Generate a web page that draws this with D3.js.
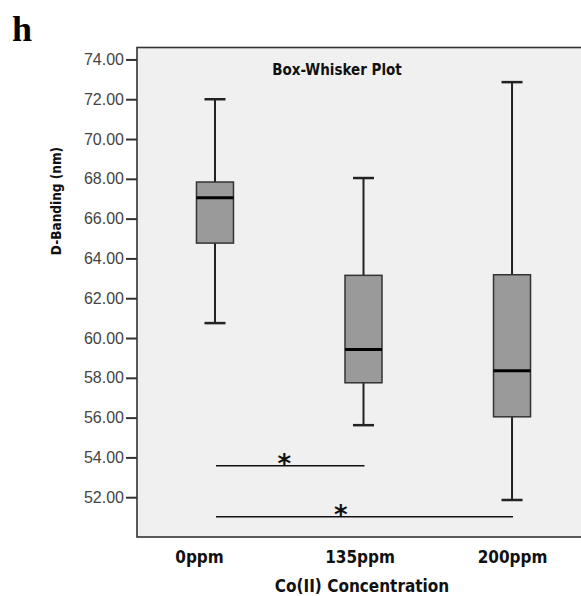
<!DOCTYPE html>
<html><head><meta charset="utf-8">
<script src="https://cdn.jsdelivr.net/npm/d3@7/dist/d3.min.js"></script>
<style>
html,body{margin:0;padding:0;background:#fff;}
svg{display:block;}
</style></head>
<body>
<script>
// ---- data ----
const categories = ["0ppm", "135ppm", "200ppm"];
const whiskerLow  = [60.75, 55.62, 51.86];
const q1          = [64.77, 57.75, 56.04];
const median      = [67.05, 59.42, 58.35];
const q3          = [67.84, 63.15, 63.18];
const whiskerHigh = [72.00, 68.04, 72.86];
const yTicks = [52, 54, 56, 58, 60, 62, 64, 66, 68, 70, 72, 74];
const comparisons = [ {from: "0ppm", to: "135ppm", level: 53.58, label: "*"},
                      {from: "0ppm", to: "200ppm", level: 51.02, label: "*"} ];

// ---- layout ----
const W = 581, H = 596;
const plot = {left: 137, right: 600, top: 47.5, bottom: 537};
const boxW = 37, capW = 21;
const labelNudge = [-16, -4, 0];
const starFrac = [0.46, 0.42];

const svg = d3.select("body").append("svg").attr("width", W).attr("height", H);

const y = d3.scaleLinear().domain([50, 74.6]).range([plot.bottom, plot.top]);
const x = d3.scalePoint().domain(categories).range([137, 590]).padding(0.525);

// panel
svg.append("rect").attr("x", plot.left).attr("y", plot.top)
  .attr("width", plot.right - plot.left).attr("height", plot.bottom - plot.top)
  .attr("fill", "#f0f0f0").attr("stroke", "#333").attr("stroke-width", 1.6);

// y axis
const yAxis = svg.append("g").attr("transform", `translate(${plot.left},0)`)
  .call(d3.axisLeft(y).tickValues(yTicks).tickFormat(d3.format(".2f")).tickSize(11).tickPadding(2));
yAxis.select(".domain").remove();
yAxis.selectAll(".tick line").attr("stroke", "#333").attr("stroke-width", 2);
yAxis.selectAll(".tick text").attr("fill", "#444")
  .style("font-family", "'Liberation Sans', Arial, sans-serif").style("font-size", "16px");

// x axis labels
const xAxis = svg.append("g").attr("transform", `translate(0,${plot.bottom})`)
  .call(d3.axisBottom(x).tickSize(0).tickPadding(14));
xAxis.select(".domain").remove();
xAxis.selectAll(".tick text")
  .attr("dx", (d, i) => labelNudge[i])
  .attr("fill", "#111")
  .style("font-family", "'DejaVu Sans Condensed', 'DejaVu Sans', sans-serif")
  .style("font-stretch", "condensed")
  .style("font-weight", "bold").style("font-size", "17px");

// boxes and whiskers
const g = svg.append("g");
categories.forEach((c, i) => {
  const cx = x(c);
  g.append("line").attr("x1", cx).attr("x2", cx)
    .attr("y1", y(whiskerLow[i])).attr("y2", y(whiskerHigh[i]))
    .attr("stroke", "#222").attr("stroke-width", 2);
  [whiskerLow[i], whiskerHigh[i]].forEach(v => {
    g.append("line").attr("x1", cx - capW / 2).attr("x2", cx + capW / 2)
      .attr("y1", y(v)).attr("y2", y(v))
      .attr("stroke", "#222").attr("stroke-width", 2.5);
  });
  g.append("rect").attr("x", cx - boxW / 2).attr("width", boxW)
    .attr("y", y(q3[i])).attr("height", y(q1[i]) - y(q3[i]))
    .attr("fill", "#9a9a9a").attr("stroke", "#333").attr("stroke-width", 1.5);
  g.append("line").attr("x1", cx - boxW / 2).attr("x2", cx + boxW / 2)
    .attr("y1", y(median[i])).attr("y2", y(median[i]))
    .attr("stroke", "#000").attr("stroke-width", 3);
});

// significance bars
comparisons.forEach((cmp, i) => {
  const x1 = x(cmp.from) + 1, x2 = x(cmp.to) + 1;
  svg.append("line").attr("x1", x1).attr("x2", x2)
    .attr("y1", y(cmp.level)).attr("y2", y(cmp.level))
    .attr("stroke", "#111").attr("stroke-width", 1.5);
  svg.append("text").attr("x", x1 + starFrac[i] * (x2 - x1)).attr("y", y(cmp.level) + 7)
    .attr("text-anchor", "middle").attr("fill", "#111")
    .style("font-family", "'DejaVu Sans', sans-serif").style("font-weight", "bold")
    .style("font-size", "26px").text(cmp.label);
});

// title
svg.append("text").attr("x", 337).attr("y", 75).attr("text-anchor", "middle")
  .attr("fill", "#111")
  .style("font-family", "'DejaVu Sans Condensed', 'DejaVu Sans', sans-serif")
  .style("font-stretch", "condensed")
  .style("font-weight", "bold").style("font-size", "15px").text("Box-Whisker Plot");

// axis titles
svg.append("text").attr("x", 362).attr("y", 592).attr("text-anchor", "middle")
  .attr("fill", "#111")
  .style("font-family", "'DejaVu Sans Condensed', 'DejaVu Sans', sans-serif")
  .style("font-stretch", "condensed")
  .style("font-weight", "bold").style("font-size", "17px").text("Co(II) Concentration");

svg.append("text").attr("transform", "translate(61,201) rotate(-90)").attr("text-anchor", "middle")
  .attr("fill", "#111")
  .style("font-family", "'DejaVu Sans Condensed', 'DejaVu Sans', sans-serif")
  .style("font-stretch", "condensed")
  .style("font-weight", "bold").style("font-size", "13.5px").text("D-Banding (nm)");

// panel letter
svg.append("text").attr("x", 12).attr("y", 41)
  .attr("fill", "#000")
  .style("font-family", "'Liberation Serif', 'Times New Roman', serif")
  .style("font-weight", "bold").style("font-size", "36px").text("h");
</script>
</body></html>
